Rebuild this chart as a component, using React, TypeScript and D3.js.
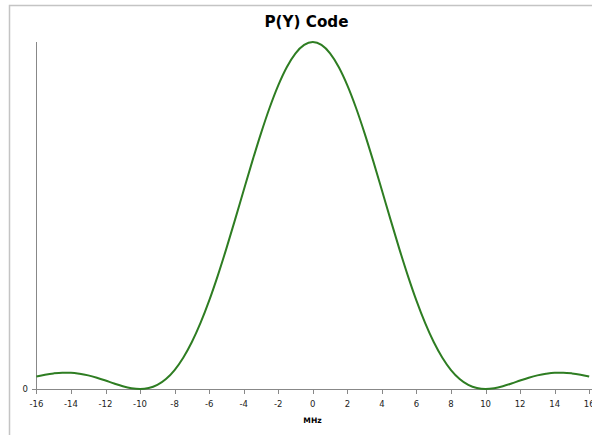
import React from "react";
import * as d3 from "d3";

// Frequency offset (MHz)
const freqs: number[] = [
  -16, -15.5, -15, -14.5, -14, -13.5, -13, -12.5, -12, -11.5, -11, -10.5, -10,
  -9.5, -9, -8.5, -8, -7.5, -7, -6.5, -6, -5.5, -5, -4.5, -4, -3.5, -3, -2.5,
  -2, -1.5, -1, -0.5, 0, 0.5, 1, 1.5, 2, 2.5, 3, 3.5, 4, 4.5, 5, 5.5, 6, 6.5,
  7, 7.5, 8, 8.5, 9, 9.5, 10, 10.5, 11, 11.5, 12, 12.5, 13, 13.5, 14, 14.5, 15,
  15.5, 16,
];

// Relative power
const power: number[] = [
  0.0358, 0.0411, 0.045, 0.047, 0.0468, 0.0441, 0.0392, 0.0324, 0.0243, 0.0158,
  0.008, 0.0023, 0, 0.0028, 0.0119, 0.0289, 0.0547, 0.0901, 0.1353, 0.1904,
  0.2546, 0.3268, 0.4053, 0.4881, 0.5728, 0.6566, 0.7368, 0.8106, 0.8751,
  0.9281, 0.9675, 0.9918, 1, 0.9918, 0.9675, 0.9281, 0.8751, 0.8106, 0.7368,
  0.6566, 0.5728, 0.4881, 0.4053, 0.3268, 0.2546, 0.1904, 0.1353, 0.0901,
  0.0547, 0.0289, 0.0119, 0.0028, 0, 0.0023, 0.008, 0.0158, 0.0243, 0.0324,
  0.0392, 0.0441, 0.0468, 0.047, 0.045, 0.0411, 0.0358,
];

const xTicks: number[] = [-16, -14, -12, -10, -8, -6, -4, -2, 0, 2, 4, 6, 8, 10, 12, 14, 16];
const yTicks: number[] = [0];

const title = "P(Y) Code";
const xLabel = "MHz";

export default function App() {
  const W = 592;
  const H = 435;
  const x = d3.scaleLinear().domain([-16, 16]).range([36.4, 589.2]);
  const y = d3.scaleLinear().domain([0, 1]).range([389, 42]);
  const data = freqs.map((f, i) => [f, power[i]] as [number, number]);
  const line = d3
    .line<[number, number]>()
    .x((d) => x(d[0]))
    .y((d) => y(d[1]))
    .curve(d3.curveMonotoneX);

  const font = "'DejaVu Sans', Verdana, sans-serif";

  return (
    <svg
      width={W}
      height={H}
      style={{ position: "absolute", left: 0, top: 0, display: "block" }}
    >
      <rect x={0} y={0} width={W} height={H} fill="#fff" />
      {/* chart border */}
      <path d={`M9.5,${H + 5} V5.5 H${W + 5}`} fill="none" stroke="#c4c4c4" strokeWidth={1.5} />
      <text
        x={306.5}
        y={27}
        textAnchor="middle"
        fontFamily={font}
        fontWeight="bold"
        fontSize={15.2}
        fill="#000"
      >
        {title}
      </text>
      {/* y axis */}
      <line x1={36.5} x2={36.5} y1={42} y2={389} stroke="#888" strokeWidth={1} />
      {yTicks.map((t) => (
        <g key={"y" + t}>
          <line x1={32} x2={36.5} y1={y(t) + 0.5} y2={y(t) + 0.5} stroke="#888" />
          <text
            x={28}
            y={y(t) + 3}
            textAnchor="end"
            fontFamily={font}
            fontSize={8.5}
            fill="#222"
          >
            {t}
          </text>
        </g>
      ))}
      {/* x axis */}
      <line x1={36} x2={W} y1={389.5} y2={389.5} stroke="#888" strokeWidth={1} />
      {xTicks.map((t) => (
        <g key={"x" + t}>
          <line
            x1={Math.round(x(t)) + 0.5}
            x2={Math.round(x(t)) + 0.5}
            y1={389.5}
            y2={394}
            stroke="#888"
          />
          <text
            x={x(t)}
            y={406.5}
            textAnchor="middle"
            fontFamily={font}
            fontSize={8.5}
            fill="#222"
          >
            {t}
          </text>
        </g>
      ))}
      <text
        x={312.5}
        y={423}
        textAnchor="middle"
        fontFamily={font}
        fontWeight="bold"
        fontSize={7.6}
        fill="#000"
      >
        {xLabel}
      </text>
      <path
        d={line(data) || ""}
        fill="none"
        stroke="#2e7d22"
        strokeWidth={2}
        strokeLinejoin="round"
      />
    </svg>
  );
}
